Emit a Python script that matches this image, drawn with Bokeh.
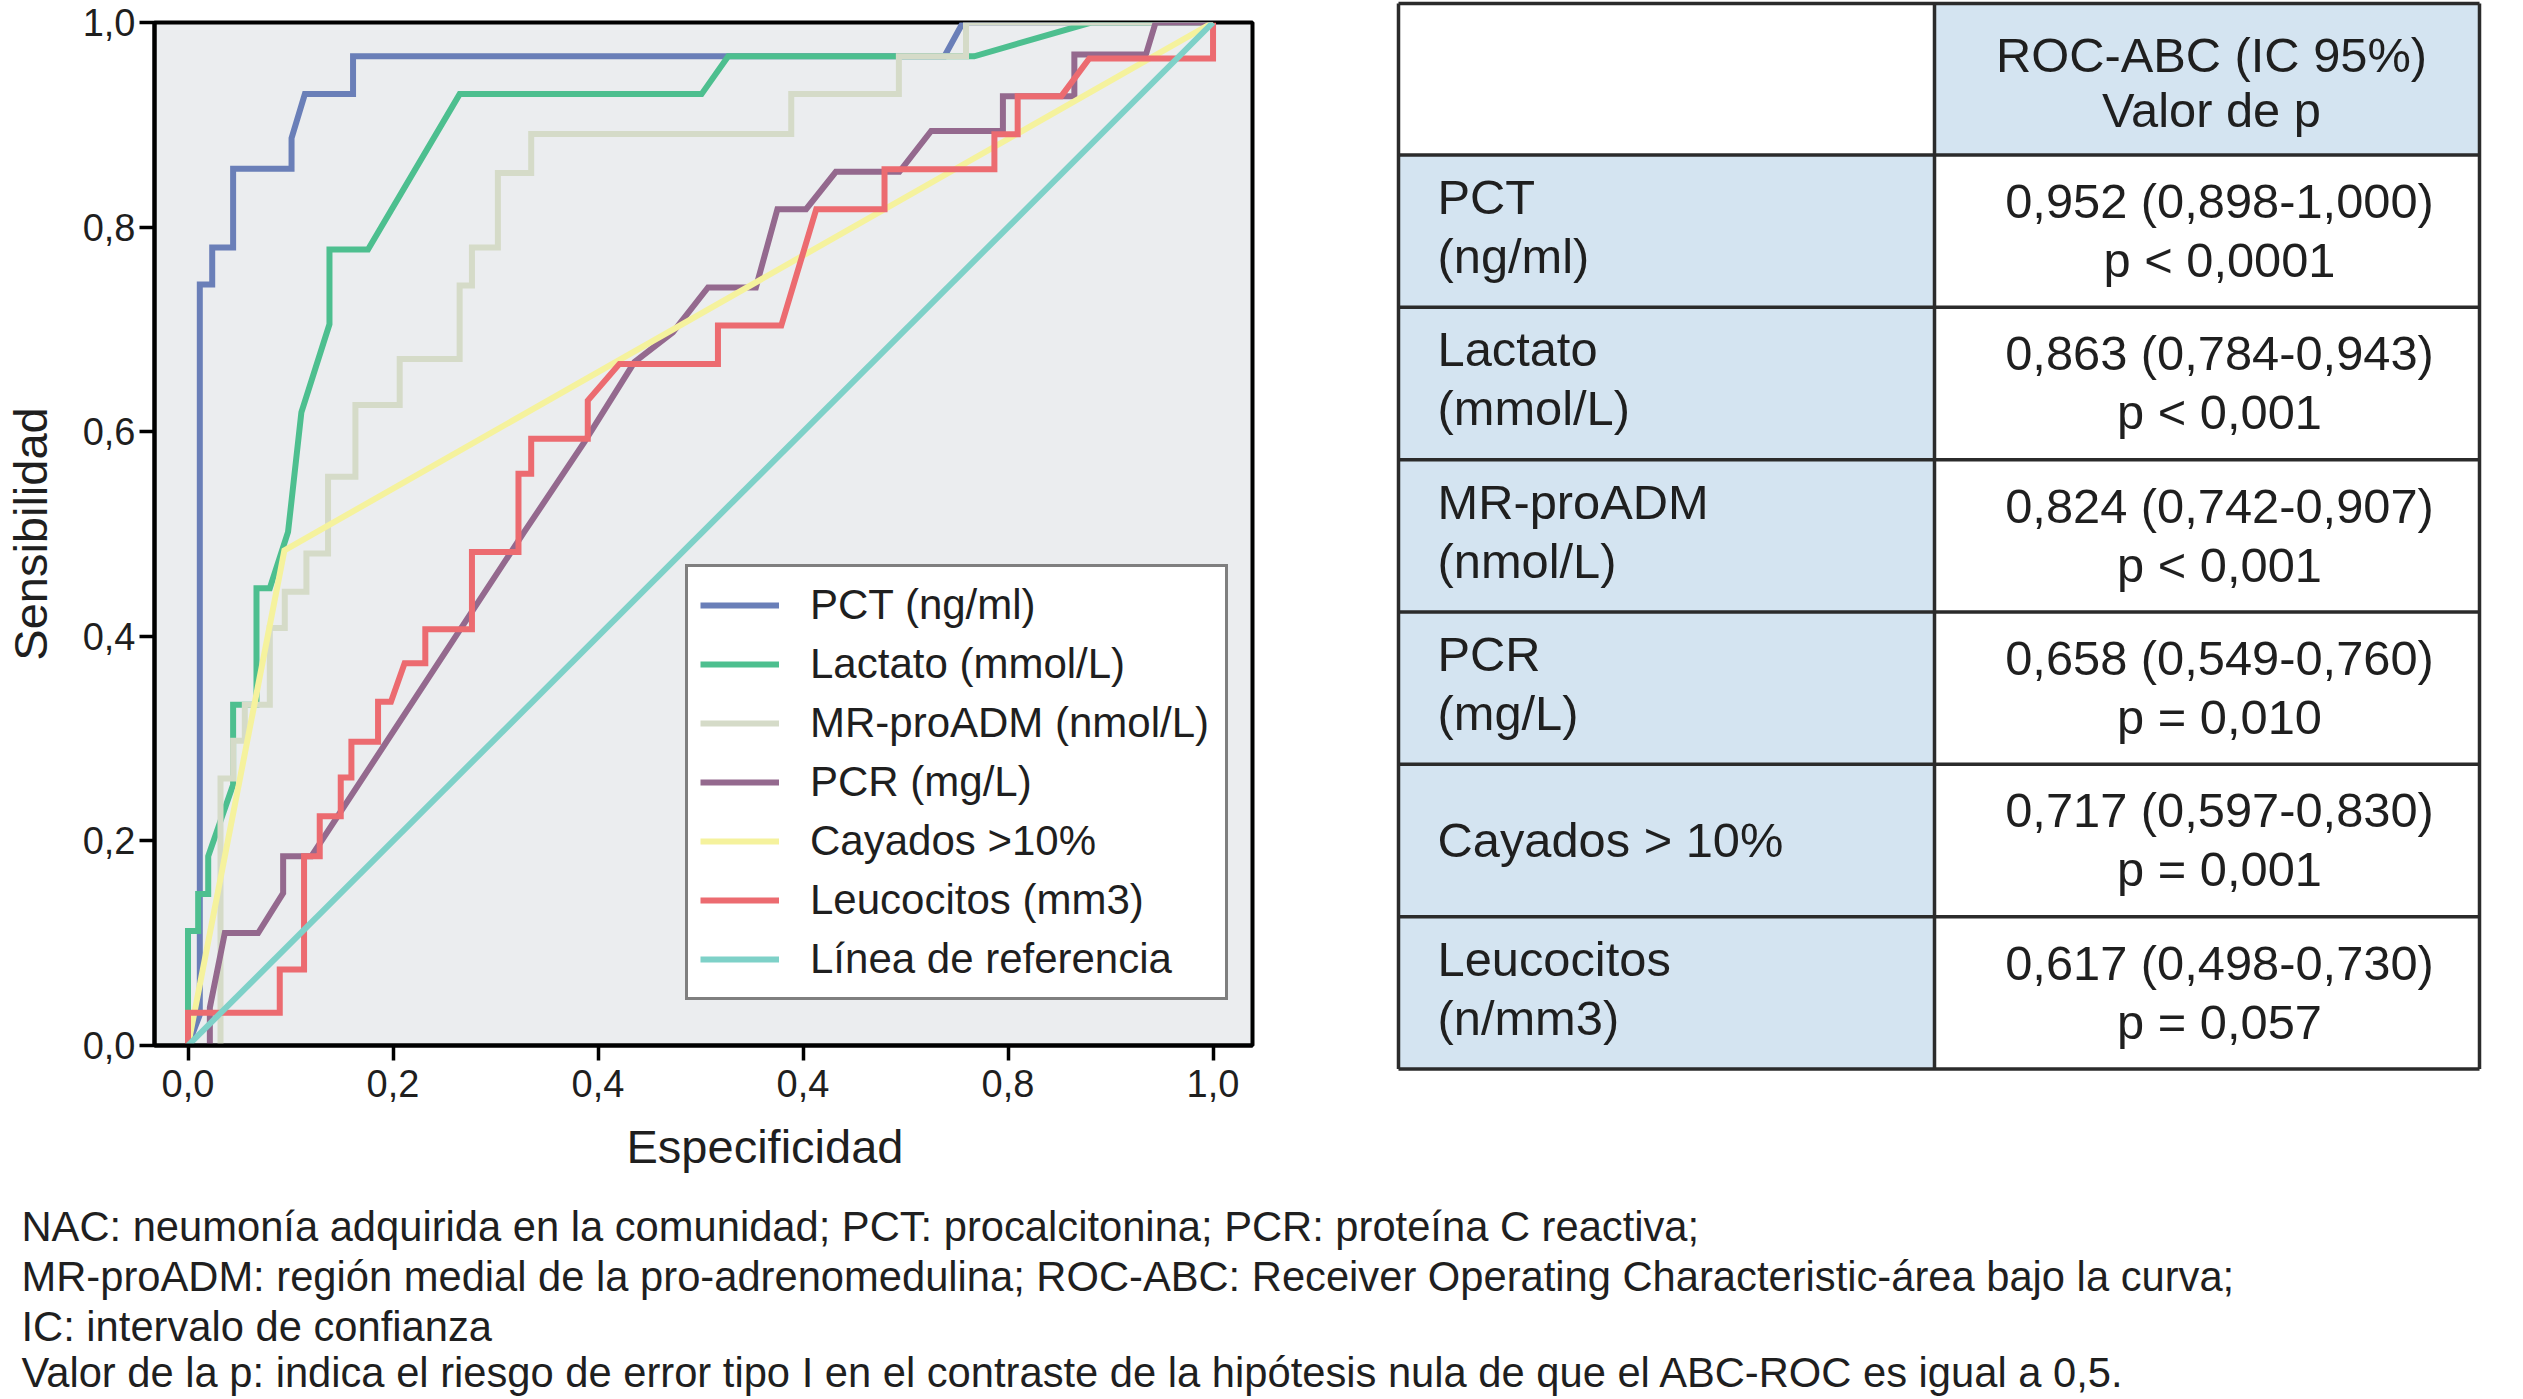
from bokeh.plotting import figure
from bokeh.models import Range1d, FixedTicker, Legend, LegendItem, Title
from bokeh.layouts import column, row
from bokeh.embed import file_html
from bokeh.resources import INLINE
from bokeh.core.properties import value

FONT = "Liberation Sans"
INK = "#1f1f1f"

# ---------------- ROC data: x = 1 - especificidad, y = sensibilidad ----------------
pct_x = [0.0, 0.0115, 0.0115, 0.0236, 0.0236, 0.044, 0.044, 0.101, 0.101, 0.114, 0.161, 0.161, 0.738, 0.756, 1.0]
pct_y = [0.0, 0.03, 0.744, 0.744, 0.780, 0.780, 0.857, 0.857, 0.887, 0.930, 0.930, 0.967, 0.967, 1.0, 1.0]

lact_x = [0.0, 0.0, 0.0099, 0.0099, 0.0197, 0.0197, 0.044, 0.044, 0.0668, 0.0668, 0.0798, 0.0976,
          0.1106, 0.138, 0.138, 0.1756, 0.265, 0.501, 0.527, 0.767, 0.881, 1.0]
lact_y = [0.0, 0.112, 0.112, 0.148, 0.148, 0.185, 0.255, 0.333, 0.333, 0.447, 0.447, 0.502,
          0.619, 0.705, 0.778, 0.778, 0.930, 0.930, 0.967, 0.967, 1.0, 1.0]

mr_x = [0.0317, 0.0317, 0.044, 0.044, 0.0554, 0.0554, 0.0798, 0.0798, 0.0944, 0.0944, 0.1155, 0.1155,
        0.1366, 0.1366, 0.1633, 0.1633, 0.2065, 0.2065, 0.265, 0.265, 0.277, 0.277, 0.3023, 0.3023,
        0.3348, 0.3348, 0.5885, 0.5885, 0.6935, 0.6935, 0.759, 0.759, 1.0]
mr_y = [0.0, 0.261, 0.261, 0.298, 0.298, 0.333, 0.333, 0.408, 0.408, 0.4435, 0.4435, 0.481,
        0.481, 0.556, 0.556, 0.626, 0.626, 0.671, 0.671, 0.743, 0.743, 0.780, 0.780, 0.853,
        0.853, 0.891, 0.891, 0.930, 0.930, 0.967, 0.967, 1.0, 1.0]

pcr_x = [0.0213, 0.0213, 0.0359, 0.0684, 0.0928, 0.0928, 0.1204, 0.328, 0.3868, 0.4355, 0.473, 0.5073,
         0.554, 0.575, 0.603, 0.632, 0.694, 0.725, 0.795, 0.795, 0.8647, 0.8647, 0.9345, 0.944, 1.0]
pcr_y = [0.0, 0.037, 0.110, 0.110, 0.149, 0.185, 0.185, 0.502, 0.590, 0.668, 0.697, 0.741,
         0.741, 0.8175, 0.8175, 0.854, 0.854, 0.894, 0.894, 0.928, 0.928, 0.9687, 0.9687, 1.0, 1.0]

cay_x = [0.0, 0.094, 1.0]
cay_y = [0.0, 0.484, 1.0]

leu_x = [0.0, 0.0, 0.0895, 0.0895, 0.1132, 0.1132, 0.1285, 0.1285, 0.149, 0.149, 0.1594, 0.1594,
         0.1854, 0.1854, 0.198, 0.2113, 0.2315, 0.2315, 0.277, 0.277, 0.3224, 0.3224, 0.3348, 0.3348,
         0.390, 0.390, 0.4209, 0.517, 0.517, 0.5788, 0.6129, 0.6795, 0.6795, 0.7867, 0.7867, 0.8094,
         0.8094, 0.852, 0.8793, 1.0, 1.0]
leu_y = [0.0, 0.032, 0.032, 0.0744, 0.0744, 0.185, 0.185, 0.224, 0.224, 0.262, 0.262, 0.297,
         0.297, 0.336, 0.336, 0.3736, 0.3736, 0.407, 0.407, 0.4825, 0.4825, 0.559, 0.559, 0.593,
         0.593, 0.6305, 0.6663, 0.6663, 0.7037, 0.7037, 0.8175, 0.8175, 0.8565, 0.8565, 0.8907, 0.8907,
         0.928, 0.928, 0.9648, 0.9648, 1.0]

ref_x = [0.0, 1.0]
ref_y = [0.0, 1.0]

series_names = ["PCT (ng/ml)", "Lactato (mmol/L)", "MR-proADM (nmol/L)", "PCR (mg/L)",
                "Cayados >10%", "Leucocitos (mm3)", "Línea de referencia"]
series_colors = ["#6a7fb8", "#4dbf8f", "#d5dbc8", "#94698e", "#f5f29d", "#ec6b70", "#7ed1c8"]

tick_vals = [0.0, 0.2, 0.4, 0.6, 0.8, 1.0]
x_tick_labels = ["0,0", "0,2", "0,4", "0,4", "0,8", "1,0"]
y_tick_labels = ["0,0", "0,2", "0,4", "0,6", "0,8", "1,0"]

# ---------------- table data ----------------
table_header = ["ROC-ABC (IC 95%)", "Valor de p"]
row_labels = [["PCT", "(ng/ml)"], ["Lactato", "(mmol/L)"], ["MR-proADM", "(nmol/L)"],
              ["PCR", "(mg/L)"], ["Cayados > 10%"], ["Leucocitos", "(n/mm3)"]]
auc_text = ["0,952 (0,898-1,000)", "0,863 (0,784-0,943)", "0,824 (0,742-0,907)",
            "0,658 (0,549-0,760)", "0,717 (0,597-0,830)", "0,617 (0,498-0,730)"]
p_text = ["p < 0,0001", "p < 0,001", "p < 0,001", "p = 0,010", "p = 0,001", "p = 0,057"]

footnotes = [
    "NAC: neumonía adquirida en la comunidad; PCT: procalcitonina; PCR: proteína C reactiva;",
    "MR-proADM: región medial de la pro-adrenomedulina; ROC-ABC: Receiver Operating Characteristic-área bajo la curva;",
    "IC: intervalo de confianza",
    "Valor de la p: indica el riesgo de error tipo I en el contraste de la hipótesis nula de que el ABC-ROC es igual a 0,5.",
]

# ---------------- layout constants (page pixels) ----------------
TOTAL_W = 2520
TOTAL_H = 1398
ROC_W = 1390
ROW_H = 1202
FOOT_H = TOTAL_H - ROW_H
FR_L, FR_T, FR_W, FR_H = 153, 22, 1099, 1023

# ---------------- ROC figure ----------------
p = figure(width=ROC_W, height=ROW_H, x_range=Range1d(-0.0327, 1.0385), y_range=Range1d(0, 1),
           output_backend="svg", toolbar_location=None,
           min_border_left=FR_L, min_border_top=FR_T,
           min_border_right=ROC_W - FR_L - FR_W, min_border_bottom=ROW_H - FR_T - FR_H)
p.background_fill_color = "#ebedef"
p.border_fill_color = "white"
p.outline_line_color = "black"
p.outline_line_width = 4
p.grid.visible = False

for ax in (p.xaxis[0], p.yaxis[0]):
    ax.ticker = FixedTicker(ticks=tick_vals)
    ax.axis_line_color = "black"
    ax.axis_line_width = 4
    ax.major_tick_line_color = "black"
    ax.major_tick_line_width = 3.5
    ax.major_tick_out = 15
    ax.major_tick_in = 0
    ax.minor_tick_line_color = None
    ax.major_label_text_font = FONT
    ax.major_label_text_font_size = "38px"
    ax.major_label_text_color = INK

p.xaxis.major_label_overrides = dict(zip(tick_vals, x_tick_labels))
p.yaxis.major_label_overrides = dict(zip(tick_vals, y_tick_labels))
p.xaxis.major_label_standoff = 9
p.yaxis.major_label_standoff = 4

p.yaxis.axis_label = "Sensibilidad"
p.yaxis.axis_label_text_font = FONT
p.yaxis.axis_label_text_font_size = "47px"
p.yaxis.axis_label_text_font_style = "normal"
p.yaxis.axis_label_text_color = INK
p.yaxis.axis_label_standoff = 23

p.add_layout(Title(text="Especificidad", align="left", offset=472, standoff=37,
                   text_font=FONT, text_font_size="47px", text_font_style="normal",
                   text_color=INK), "below")

series_x = [pct_x, lact_x, mr_x, pcr_x, cay_x, leu_x, ref_x]
series_y = [pct_y, lact_y, mr_y, pcr_y, cay_y, leu_y, ref_y]
renderers = []
for xs, ys, c in zip(series_x, series_y, series_colors):
    r = p.line(xs, ys, line_color=c, line_width=6, line_join="miter")
    renderers.append(r)

legend = Legend(items=[LegendItem(label=n, renderers=[r]) for n, r in zip(series_names, renderers)],
                location=(531, 45), orientation="vertical",
                border_line_color="black", border_line_width=3.5,
                background_fill_color="white", background_fill_alpha=1.0,
                label_text_font=FONT, label_text_font_size="42px", label_text_color=INK,
                glyph_width=79, glyph_height=52, label_height=52, label_width=403,
                label_standoff=31, spacing=7, padding=12, margin=0)
p.add_layout(legend, "center")

# ---------------- table figure (coordinates in its own pixels, y downwards) ----------------
TAB_W = TOTAL_W - ROC_W
t = figure(width=TAB_W, height=ROW_H, x_range=Range1d(0, TAB_W), y_range=Range1d(ROW_H, 0),
           output_backend="svg", toolbar_location=None, min_border=0,
           x_axis_location=None, y_axis_location=None)
t.outline_line_color = None
t.grid.visible = False
t.background_fill_color = "white"
t.border_fill_color = "white"

BLUE = "#d4e4f1"
col_edges = [8, 544, 1089]
header_top, header_bottom, row_h = 3, 154.5, 152.33
row_edges = [header_top, header_bottom] + [header_bottom + row_h * (i + 1) for i in range(len(row_labels))]

t.quad(left=[col_edges[1]], right=[col_edges[2]], top=[row_edges[0]], bottom=[row_edges[1]],
       fill_color=BLUE, line_color=None)
t.quad(left=[col_edges[0]] * len(row_labels), right=[col_edges[1]] * len(row_labels),
       top=row_edges[1:-1], bottom=row_edges[2:], fill_color=BLUE, line_color=None)
t.multi_line(xs=[[col_edges[0], col_edges[2]] for _ in row_edges], ys=[[y, y] for y in row_edges],
             line_color="#2b2b2b", line_width=3.5)
t.multi_line(xs=[[x, x] for x in col_edges], ys=[[row_edges[0], row_edges[-1]] for _ in col_edges],
             line_color="#2b2b2b", line_width=3.5)

TXT = dict(text_font=value(FONT), text_font_size="48.8px", text_color=INK, text_baseline="middle")
HEAD_X, VAL_X, LAB_X = 821, 829, 47
hc = (row_edges[0] + row_edges[1]) / 2
t.text(x=[HEAD_X, HEAD_X], y=[hc - 24, hc + 31], text=table_header, text_align="center", **TXT)

lx, ly, lt, vx, vy, vt = [], [], [], [], [], []
for i, labs in enumerate(row_labels):
    c = (row_edges[i + 1] + row_edges[i + 2]) / 2
    if len(labs) == 1:
        lx.append(LAB_X); ly.append(c); lt.append(labs[0])
    else:
        lx += [LAB_X, LAB_X]; ly += [c - 34, c + 25]; lt += labs
    vx += [VAL_X, VAL_X]; vy += [c - 30, c + 29]; vt += [auc_text[i], p_text[i]]
t.text(x=lx, y=ly, text=lt, text_align="left", **TXT)
t.text(x=vx, y=vy, text=vt, text_align="center", **TXT)

# ---------------- footnotes figure ----------------
f = figure(width=TOTAL_W, height=FOOT_H, x_range=Range1d(0, TOTAL_W), y_range=Range1d(FOOT_H, 0),
           output_backend="svg", toolbar_location=None, min_border=0,
           x_axis_location=None, y_axis_location=None)
f.outline_line_color = None
f.grid.visible = False
f.background_fill_color = "white"
f.border_fill_color = "white"
foot_y = [1226 - ROW_H + 50 * i for i in range(len(footnotes) - 1)] + [1372 - ROW_H]
f.text(x=[21] * len(footnotes), y=foot_y, text=footnotes, text_align="left",
       text_font=value(FONT), text_font_size="41.7px", text_color=INK, text_baseline="middle")

layout = column(row(p, column(t)), f)
open("out.html", "w").write(file_html(layout, INLINE))
